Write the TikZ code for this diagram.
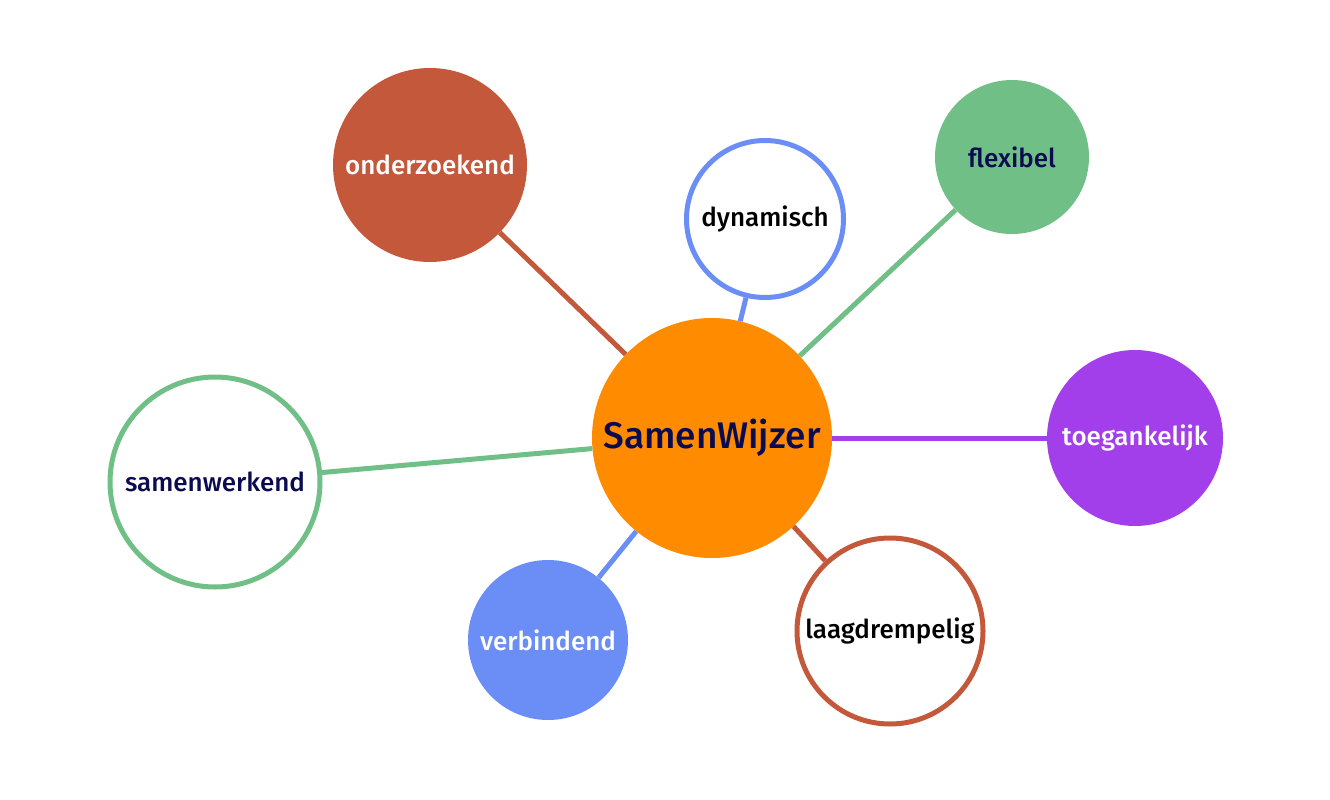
\documentclass[tikz,border=0pt]{standalone}
\usepackage{fontspec}
\setmainfont{Fira Sans}[UprightFont=* Medium,BoldFont=* SemiBold]
\definecolor{oranje}{HTML}{FF8C00}
\definecolor{steen}{HTML}{C4583A}
\definecolor{blauw}{HTML}{6A8EF5}
\definecolor{groen}{HTML}{70BF86}
\definecolor{paars}{HTML}{A33EEB}
\definecolor{navy}{HTML}{0B0B50}
\begin{document}
\begin{tikzpicture}[x=1pt,y=-1pt,
	bol/.style={circle,inner sep=0pt,font=\fontsize{26}{28}\selectfont},
	vol/.style={bol,fill=#1,draw=none},
	rand/.style={bol,fill=white,draw=#1,line width=5pt},
	lijn/.style={draw=#1,line width=5pt}]
			\useasboundingbox (0,0) rectangle (1330,800);
			\node[vol=oranje,minimum size=240pt,text=navy,font=\fontsize{37}{40}\selectfont] (c) at (712,438) {SamenWijzer};
			\node[vol=steen,minimum size=194pt,text=white] (o) at (430,165) {onderzoekend};
			\node[rand=blauw,minimum size=157pt,text=black] (d) at (765,219) {dynamisch};
			\node[vol=groen,minimum size=154pt,text=navy] (f) at (1012,157) {flexibel};
			\node[vol=paars,minimum size=176pt,text=white] (t) at (1135,438) {toegankelijk};
			\node[rand=steen,minimum size=186pt,text=black] (l) at (890,631) {laagdrempelig};
			\node[vol=blauw,minimum size=160pt,text=white] (v) at (548,640) {verbindend};
			\node[rand=groen,minimum size=210pt,text=navy] (s) at (215,482) {samenwerkend};
			\draw[lijn=steen] (c)--(o);
			\draw[lijn=blauw] (c)--(d);
			\draw[lijn=groen] (c)--(f);
			\draw[lijn=paars] (c)--(t);
			\draw[lijn=steen] (c)--(l);
			\draw[lijn=blauw] (c)--(v);
			\draw[lijn=groen] (c)--(s);
			\end{tikzpicture}
\end{document}
